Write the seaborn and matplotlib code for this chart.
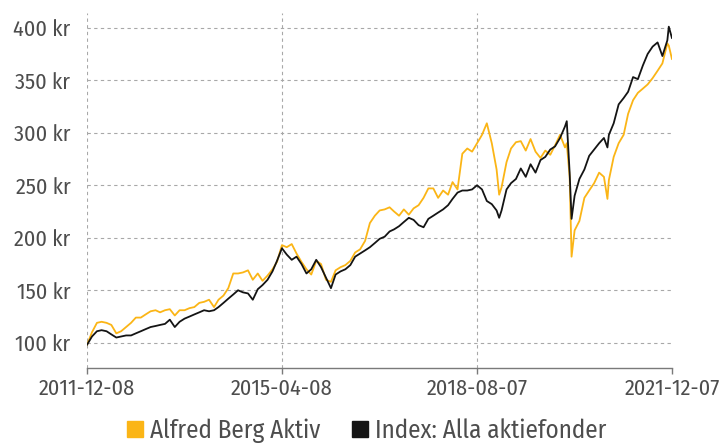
import pandas as pd
import matplotlib
matplotlib.use("Agg")
import matplotlib.pyplot as plt
import matplotlib.dates as mdates
import matplotlib.ticker as mtick
from matplotlib.lines import Line2D
import seaborn as sns

# Monthly readings (8th of each month), Dec 2011 - Dec 2021
start_date = "2011-12-08"
end_date = "2021-12-07"
alfred = [98, 110, 119, 120, 119, 117, 109, 111, 115, 119,
          124, 124, 127, 130, 131, 129, 131, 132, 126, 131,
          131, 133, 134, 138, 139, 141, 134, 141, 145, 152,
          166, 166, 167, 169, 160, 166, 159, 164, 170, 177,
          193, 191, 194, 185, 177, 170, 165, 178, 175, 160,
          158, 169, 172, 174, 178, 186, 189, 197, 214, 221,
          226, 227, 229, 225, 221, 227, 222, 228, 231, 238,
          247, 247, 238, 245, 241, 253, 246, 280, 285, 282,
          290, 298, 309, 290, 265, 248, 272, 285, 291, 292,
          283, 294, 282, 276, 283, 279, 288, 298, 286, 258,
          207, 216, 238, 245, 252, 262, 258, 255, 277, 290,
          298, 318, 331, 338, 342, 346, 352, 359, 366, 385,
          370]
index = [98, 106, 111, 112, 111, 108, 105, 106, 107, 107,
         109, 111, 113, 115, 116, 117, 118, 122, 115, 120,
         123, 125, 127, 129, 131, 130, 131, 134, 138, 142,
         146, 150, 148, 147, 141, 151, 155, 160, 168, 178,
         190, 184, 179, 182, 175, 166, 170, 179, 172, 162,
         152, 165, 168, 170, 174, 182, 185, 188, 191, 195,
         199, 201, 206, 208, 211, 215, 219, 217, 212, 210,
         218, 221, 224, 227, 231, 237, 243, 245, 245, 246,
         250, 246, 235, 232, 226, 226, 246, 252, 256, 266,
         258, 270, 262, 274, 277, 284, 287, 295, 306, 262,
         240, 256, 265, 278, 284, 290, 295, 298, 309, 327,
         333, 339, 353, 351, 364, 375, 382, 386, 373, 388,
         390]

# Extra readings at sharp turns
extra_dates = ["2018-12-24", "2020-02-19", "2020-03-20", "2020-10-30", "2021-11-17"]
extra_alfred = [241, 290, 182, 237, 383]
extra_index = [219, 311, 218, 286, 401]

series_names = ["Alfred Berg Aktiv", "Index: Alla aktiefonder"]
colors = ["#FBB516", "#141414"]
tick_dates = ["2011-12-08", "2015-04-08", "2018-08-07", "2021-12-07"]
y_ticks = [100, 150, 200, 250, 300, 350, 400]

# Build long-form table
dates = list(pd.date_range(start_date, periods=len(alfred), freq=pd.DateOffset(months=1)))
dates[-1] = pd.Timestamp(end_date)
dates = dates + [pd.Timestamp(d) for d in extra_dates]
wide = pd.DataFrame({"date": dates,
                     series_names[0]: alfred + extra_alfred,
                     series_names[1]: index + extra_index}).sort_values("date")
df = wide.melt(id_vars="date", var_name="fond", value_name="value")

sns.set_theme(style="white")
plt.rcParams["font.family"] = ["Fira Sans Condensed", "DejaVu Sans"]
text_color = "#4d4d4d"

fig = plt.figure(figsize=(7.26, 4.44), dpi=100)
ax = fig.add_axes([87 / 726, 1 - 368 / 444, 585 / 726, 355 / 444])

sns.lineplot(data=df, x="date", y="value", hue="fond", hue_order=series_names,
             palette=colors, linewidth=1.3, ax=ax, legend=False)

ax.set_xlim(pd.Timestamp(start_date), pd.Timestamp(end_date))
ax.set_ylim(76, 414)
ax.set_xticks([pd.Timestamp(d) for d in tick_dates])
ax.xaxis.set_major_formatter(mdates.DateFormatter("%Y-%m-%d"))
ax.set_yticks(y_ticks)
ax.yaxis.set_major_formatter(mtick.FuncFormatter(lambda v, _: f"{v:.0f} kr"))

ax.grid(True, axis="both", linestyle=(0, (3, 3)), color="#a8a8a8", linewidth=0.8)
ax.get_xgridlines()[-1].set_visible(False)
for side in ["top", "right", "left"]:
    ax.spines[side].set_visible(False)
ax.spines["bottom"].set_color("#7a7a7a")
ax.spines["bottom"].set_linewidth(1.0)

ax.tick_params(axis="x", length=4, color="#7a7a7a", width=1.0, pad=3,
               labelsize=16, labelcolor=text_color, bottom=True)
ax.tick_params(axis="y", length=0, pad=12, labelsize=16, labelcolor=text_color)
ax.set_xlabel("")
ax.set_ylabel("")

handles = [Line2D([], [], marker="s", linestyle="", markersize=12, color=c) for c in colors]
fig.legend(handles, series_names, loc="center", bbox_to_anchor=(0.5, 0.03), ncol=2,
           frameon=False, fontsize=18, handletextpad=0.0, columnspacing=1.0,
           handlelength=1.2, labelcolor=text_color)

fig.savefig("out.png", dpi=100)
